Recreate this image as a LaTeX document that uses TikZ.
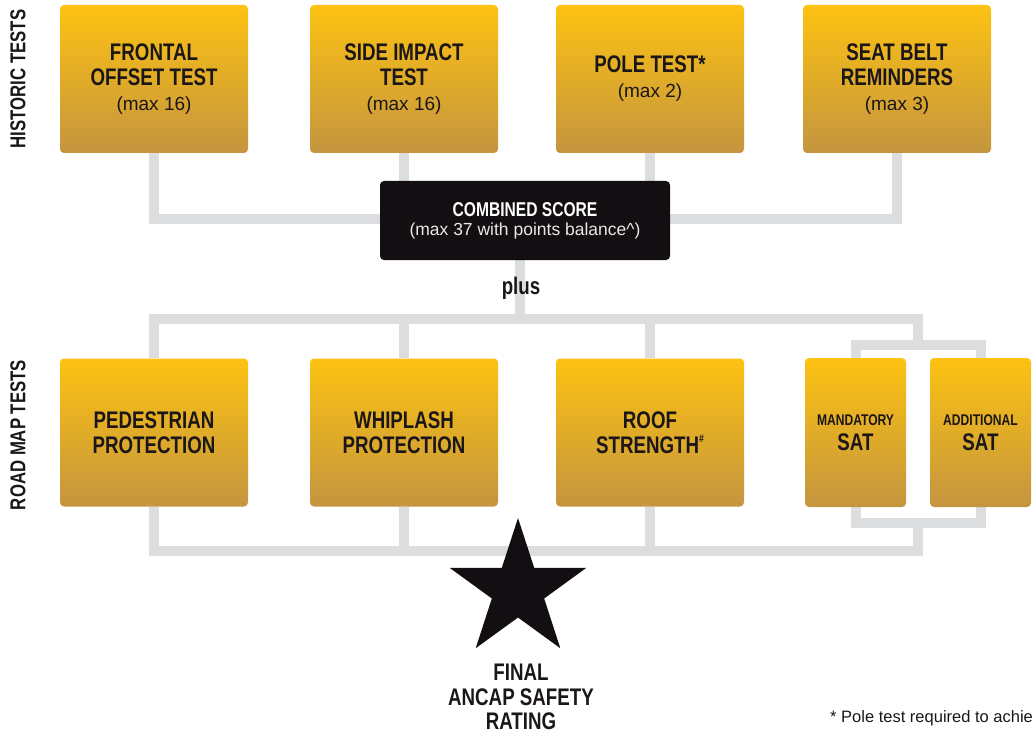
\documentclass[tikz,border=0pt]{standalone}
\usepackage{fontspec}
\setmainfont{Liberation Sans}
\newfontfamily\condfont{Liberation Sans}[FakeStretch=0.78]
\usetikzlibrary{shapes.geometric}
\definecolor{gold}{HTML}{FDC212}
\definecolor{tan}{HTML}{C4953F}
\definecolor{conn}{HTML}{DCDDDF}
\definecolor{ink}{HTML}{1B1718}
\definecolor{night}{HTML}{120E12}
\definecolor{paleText}{HTML}{E8E8E8}
\newcommand\hdtxt{\condfont\bfseries\fontsize{24}{25}\selectfont}
\newcommand\subtxt{\normalfont\fontsize{19}{23}\selectfont}
\pgfdeclarelayer{bg}
\pgfsetlayers{bg,main}
\tikzset{
  testbox/.style={rounded corners=4pt, top color=gold, bottom color=tan, draw=none,
    minimum width=188pt, minimum height=148pt, inner sep=0pt, align=center,
    text=ink, font=\hdtxt},
  satbox/.style={testbox, minimum width=101pt, minimum height=149pt},
  wire/.style={draw=conn, line width=10pt, line join=miter},
  sidelabel/.style={rotate=90, font=\condfont\bfseries\fontsize{21.5}{22}\selectfont, text=ink},
}
\begin{document}
\begin{tikzpicture}[x=1pt,y=-1pt]
\useasboundingbox (0,0) rectangle (1034,733);

% side labels
\node[sidelabel] (hist) at (18,79) {HISTORIC TESTS};
\node[sidelabel] (road) at (18,435) {ROAD MAP TESTS};

% historic tests
\node[testbox] (frontal) at (154,79) {FRONTAL\\OFFSET TEST\\{\subtxt (max 16)}};
\node[testbox] (side) at (404,79) {SIDE IMPACT\\TEST\\{\subtxt (max 16)}};
\node[testbox] (pole) at (650,79) {POLE TEST*\\{\subtxt (max 2)}};
\node[testbox] (seat) at (897,79) {SEAT BELT\\REMINDERS\\{\subtxt (max 3)}};

% combined score
\node[fill=night, rounded corners=4pt, minimum width=290pt, minimum height=79pt,
      inner sep=0pt, align=center, text=white, font=\fontsize{17.5}{19}\selectfont] (comb) at (525,220.5)
  {{\condfont\bfseries\fontsize{20}{19}\selectfont COMBINED SCORE}\\
   {\color{paleText}(max 37 with points balance\textasciicircum)}};

\node[font=\condfont\bfseries\fontsize{24}{24}\selectfont, text=ink, inner sep=0pt] (plus) at (521,288) {plus};

% road map tests
\node[testbox] (ped) at (154,432.5) {PEDESTRIAN\\PROTECTION};
\node[testbox] (whip) at (404,432.5) {WHIPLASH\\PROTECTION};
\node[testbox] (roof) at (650,432.5) {ROOF\\STRENGTH\raisebox{0.45em}{\fontsize{11}{11}\selectfont\#}};
\node[satbox] (mand) at (855.5,432.5) {{\fontsize{15.5}{17}\selectfont MANDATORY}\\SAT};
\node[satbox] (addl) at (980.5,432.5) {{\fontsize{15.5}{17}\selectfont ADDITIONAL}\\SAT};

% connectors
\coordinate (hbar) at (0,219);
\coordinate (rbar) at (0,319);
\coordinate (plusj) at (520,319);
\coordinate (satT) at (918,345);
\coordinate (satB) at (918,523);
\coordinate (bbar) at (0,551);
\begin{pgfonlayer}{bg}
\draw[wire] (frontal.south) |- (seat.south |- hbar) -- (seat.south);
\draw[wire] (side.south) -- (side.south |- hbar);
\draw[wire] (pole.south) -- (pole.south |- hbar);
\draw[wire] (plusj) -- (plusj |- comb.south);
\draw[wire] (ped.north) |- (satT |- rbar) -- (satT);
\draw[wire] (whip.north) -- (whip.north |- rbar);
\draw[wire] (roof.north) -- (roof.north |- rbar);
\draw[wire] (mand.center |- satT) -- (addl.center |- satT) -- (addl.center |- satB) -- (mand.center |- satB) -- cycle;
\draw[wire] (ped.south) |- (satB |- bbar) -- (satB);
\draw[wire] (whip.south) -- (whip.south |- bbar);
\draw[wire] (roof.south) -- (roof.south |- bbar);
\end{pgfonlayer}

% star and final rating
\node[star, star points=5, star point ratio=2.618, minimum size=144pt, inner sep=0pt, fill=night] (star) at (518,590) {};
\node[align=center, font=\condfont\bfseries\fontsize{24}{24.5}\selectfont, text=ink, inner sep=0pt] (final) at (521,697) {FINAL\\ANCAP SAFETY\\RATING};

% footnote
\node[anchor=base west, font=\fontsize{16.5}{18}\selectfont, text=ink, inner sep=0pt] (note) at (830,722) {* Pole test required to achie};
\end{tikzpicture}
\end{document}
